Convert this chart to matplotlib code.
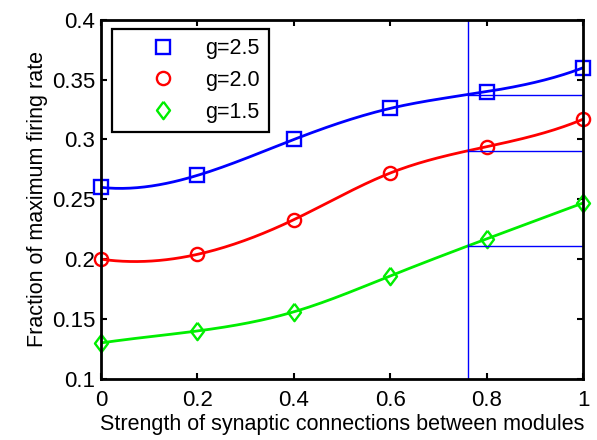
import numpy as np
import matplotlib
matplotlib.use("Agg")
import matplotlib.pyplot as plt

plt.rcParams['font.family'] = ['Liberation Sans', 'DejaVu Sans']

x = [0, 0.2, 0.4, 0.6, 0.8, 1.0]
g25 = [0.260, 0.270, 0.300, 0.326, 0.340, 0.360]
g20 = [0.200, 0.204, 0.233, 0.272, 0.294, 0.317]
g15 = [0.130, 0.140, 0.156, 0.186, 0.217, 0.247]
x_cut = 0.761


def spline(xk, yk, xs):
    # not-a-knot cubic spline, like matlab's spline()
    xk = np.asarray(xk, float)
    yk = np.asarray(yk, float)
    n = len(xk)
    h = np.diff(xk)
    A = np.zeros((n, n))
    r = np.zeros(n)
    for i in range(1, n - 1):
        A[i, i - 1] = h[i - 1]
        A[i, i] = 2 * (h[i - 1] + h[i])
        A[i, i + 1] = h[i]
        r[i] = 6 * ((yk[i + 1] - yk[i]) / h[i] - (yk[i] - yk[i - 1]) / h[i - 1])
    A[0, 0], A[0, 1], A[0, 2] = h[1], -(h[0] + h[1]), h[0]
    A[-1, -3], A[-1, -2], A[-1, -1] = h[-1], -(h[-2] + h[-1]), h[-2]
    M = np.linalg.solve(A, r)
    xs = np.asarray(xs, float)
    idx = np.clip(np.searchsorted(xk, xs) - 1, 0, n - 2)
    x0, x1 = xk[idx], xk[idx + 1]
    hh = x1 - x0
    a = (x1 - xs) / hh
    b = (xs - x0) / hh
    return (a * yk[idx] + b * yk[idx + 1]
            + ((a**3 - a) * M[idx] + (b**3 - b) * M[idx + 1]) * hh**2 / 6)


# matlab style diamond, a bit taller than wide
diamond = [(0, 1), (0.75, 0), (0, -1), (-0.75, 0), (0, 1)]

fig = plt.figure(figsize=(5.97, 4.40), dpi=100)
ax = fig.add_axes([0.169, 0.139, 0.808, 0.816])

xs = np.linspace(0, 1, 200)
series = [(g25, 'b', 's', 'g=2.5', 10),
          (g20, 'r', 'o', 'g=2.0', 9.5),
          (g15, '#00ee00', diamond, 'g=1.5', 12.5)]

for yv, c, m, lab, ms in series:
    ax.plot(xs, spline(x, yv, xs), color=c, lw=2)
    ax.plot(x, yv, ls='none', marker=m, mfc='none', mec=c, mew=1.7,
            ms=ms, label=lab, clip_on=False)
    yc = float(spline(x, yv, [x_cut])[0])
    ax.plot([x_cut, 1], [yc, yc], color='b', lw=1)

ax.axvline(x_cut, color='b', lw=1)

ax.set_xlim(0, 1)
ax.set_ylim(0.1, 0.4)
ax.set_xticks([0, 0.2, 0.4, 0.6, 0.8, 1])
ax.set_xticklabels(['0', '0.2', '0.4', '0.6', '0.8', '1'])
ax.set_yticks([0.1, 0.15, 0.2, 0.25, 0.3, 0.35, 0.4])
ax.set_yticklabels(['0.1', '0.15', '0.2', '0.25', '0.3', '0.35', '0.4'])
ax.tick_params(direction='in', top=True, right=True, length=4, width=1.5,
               labelsize=16)
ax.tick_params(axis='x', pad=8)
ax.tick_params(axis='y', pad=4)
for s in ax.spines.values():
    s.set_linewidth(2)

ax.set_xlabel('Strength of synaptic connections between modules', fontsize=15.5,
              labelpad=2)
ax.set_ylabel('Fraction of maximum firing rate', fontsize=15.5, labelpad=3)

leg = ax.legend(loc='upper left', bbox_to_anchor=(0.024, 0.974), fontsize=15.5,
                fancybox=False, edgecolor='k', framealpha=1,
                handlelength=3.9, handletextpad=0.0, borderpad=0.42,
                labelspacing=0.5, borderaxespad=0)
leg.get_frame().set_linewidth(1.6)

fig.savefig('out.png', dpi=100)
